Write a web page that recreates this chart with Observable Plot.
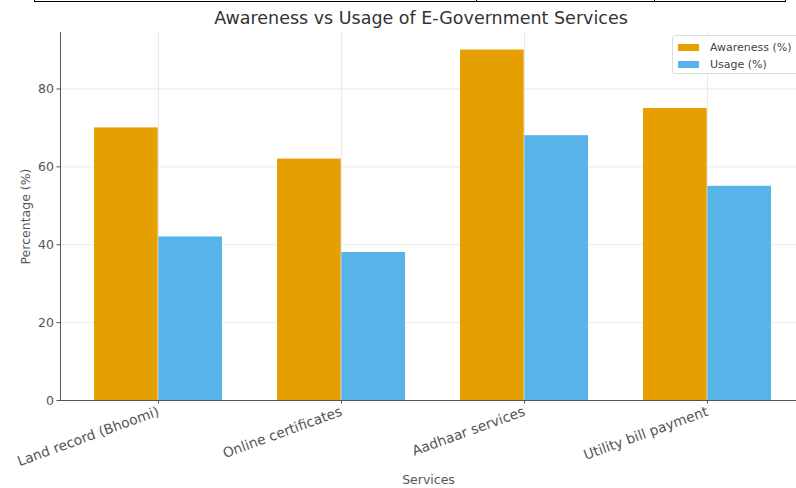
<!DOCTYPE html>
<html>
<head>
<meta charset="utf-8">
<script src="https://cdn.jsdelivr.net/npm/d3@7"></script>
<script src="https://cdn.jsdelivr.net/npm/@observablehq/plot@0.6"></script>
<style>
  html, body { margin: 0; padding: 0; background: #fff; overflow: hidden; }
  #wrap { position: relative; width: 796px; height: 488px; font-family: "DejaVu Sans", sans-serif; overflow: hidden; }
  #wrap svg { position: absolute; left: 0; top: 0; }
  .title { position: absolute; left: 60px; width: 722px; top: 8px; text-align: center; font-size: 17.5px; color: #333; white-space: nowrap; }
  .border-top { position: absolute; left: 34px; width: 752px; top: 1px; height: 0; border-top: 1.5px solid #000; }
  .vline { position: absolute; top: 0; height: 2px; width: 0; border-left: 1.5px solid #000; }
  .legend { position: absolute; left: 672px; top: 35px; width: 132px; height: 37px; border: 1px solid #dcdcdc; border-radius: 3px; background: rgba(255,255,255,0.85); }
  .legend .row { position: absolute; left: 5px; display: flex; align-items: center; font-size: 11px; color: #444; white-space: nowrap; }
  .legend .sw { width: 21px; height: 7px; margin-right: 11px; }
</style>
</head>
<body>
<div id="wrap">
  <div class="border-top"></div>
  <div class="vline" style="left:34px"></div>
  <div class="vline" style="left:476px"></div>
  <div class="vline" style="left:654px"></div>
  <div class="vline" style="left:785px"></div>
  <div class="title">Awareness vs Usage of E-Government Services</div>
</div>
<script>
const services = ["Land record (Bhoomi)", "Online certificates", "Aadhaar services", "Utility bill payment"];
const seriesNames = ["Awareness (%)", "Usage (%)"];
const awareness = [70, 62, 90, 75];
const usage = [42, 38, 68, 55];
const yTicks = [0, 20, 40, 60, 80];
const colors = ["#E69F00", "#56B4E9"];

const awarenessData = services.map((s, i) => ({service: s, value: awareness[i]}));
const usageData = services.map((s, i) => ({service: s, value: usage[i]}));

// layout of the x band scale (matplotlib-like grouped bars)
const xRange = [60, 806];
const padInner = 0.3, padOuter = 0.18;
const step = (xRange[1] - xRange[0]) / (services.length - padInner + 2 * padOuter);
const half = step * (1 - padInner) / 2;

const chart = Plot.plot({
  width: 796,
  height: 488,
  marginLeft: 60,
  marginRight: 0,
  marginTop: 32,
  marginBottom: 88,
  style: {fontFamily: "DejaVu Sans, sans-serif", fontSize: "12px", color: "#555", background: "transparent"},
  x: {domain: services, range: xRange, paddingInner: padInner, paddingOuter: padOuter},
  y: {domain: [0, 94.5], range: [400, 32]},
  marks: [
    Plot.gridY(yTicks, {stroke: "#e4e4e4", strokeOpacity: 1, strokeWidth: 0.8}),
    Plot.gridX(services, {stroke: "#e4e4e4", strokeOpacity: 1, strokeWidth: 0.8}),
    Plot.barY(awarenessData, {x: "service", y: "value", fill: colors[0], insetRight: half}),
    Plot.barY(usageData, {x: "service", y: "value", fill: colors[1], insetLeft: half}),
    Plot.axisY(yTicks, {tickSize: 3.5, tickPadding: 3, stroke: "#555", fill: "#555", fontSize: 12.5,
      label: "Percentage (%)", labelAnchor: "center", labelArrow: "none", labelOffset: 39}),
    Plot.axisX({tickSize: 3.5, tickPadding: 7, tickRotate: -20, stroke: "#555", fill: "#555", fontSize: 13.8,
      label: null}),
    Plot.axisX({tickSize: 0, ticks: [], stroke: "none", fill: "#555", fontSize: 12.5,
      label: "Services", labelAnchor: "center", labelArrow: "none", labelOffset: 83}),
    Plot.ruleY([0], {stroke: "#555", strokeWidth: 1}),
    Plot.frame({anchor: "left", stroke: "#555", strokeWidth: 1})
  ]
});
const wrap = document.getElementById("wrap");
wrap.insertBefore(chart, wrap.firstChild);

// legend
const legend = document.createElement("div");
legend.className = "legend";
seriesNames.forEach((name, i) => {
  const row = document.createElement("div");
  row.className = "row";
  row.style.top = (5 + i * 17) + "px";
  const sw = document.createElement("span");
  sw.className = "sw";
  sw.style.background = colors[i];
  const t = document.createElement("span");
  t.textContent = name;
  row.appendChild(sw);
  row.appendChild(t);
  legend.appendChild(row);
});
wrap.appendChild(legend);
</script>
</body>
</html>
